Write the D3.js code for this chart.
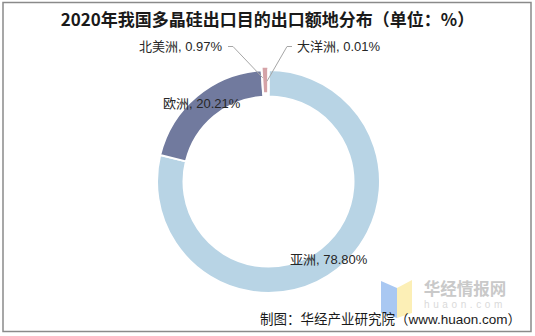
<!DOCTYPE html>
<html>
<head>
<meta charset="utf-8">
<script src="https://cdn.jsdelivr.net/npm/d3@7"></script>
<style>
  html, body { margin: 0; padding: 0; background: #fff; }
  svg { display: block; }
</style>
</head>
<body>
<svg id="chart" width="535" height="336"></svg>
<script>
// Export destinations and their shares (%)
const regions = ["亚洲", "欧洲", "北美洲", "大洋洲"];
const shares = [78.80, 20.21, 0.97, 0.01];
const shareLabels = ["78.80%", "20.21%", "0.97%", "0.01%"];
const colors = ["#b8d4e5", "#717a9e", "#d5a3a7", "#c9a8ab"];

const svg = d3.select("#chart");
const cx = 268.5, cy = 181.5;
const outerR = 111.5, innerR = 85;

// Outer frame
svg.append("rect")
  .attr("x", 3).attr("y", 2.5)
  .attr("width", 528).attr("height", 329)
  .attr("fill", "#fff")
  .attr("stroke", "#8a8a8a").attr("stroke-width", 1.5);

// Title
svg.append("text")
  .attr("x", 267.5).attr("y", 26)
  .attr("text-anchor", "middle")
  .attr("font-family", "'Noto Sans CJK SC', sans-serif")
  .attr("font-weight", "bold")
  .attr("font-size", 17)
  .attr("fill", "#1a1a1a")
  .text("2020年我国多晶硅出口目的出口额地分布（单位：%）");

// Watermark logo
const wm = svg.append("g");
wm.append("polygon")
  .attr("points", "381,281 397,288 397,318 381,313")
  .attr("fill", "#a9c8f2");
wm.append("polygon")
  .attr("points", "397,288 412,280 412,313 397,318")
  .attr("fill", "#fcefb6");
wm.append("text")
  .attr("x", 465).attr("y", 295)
  .attr("text-anchor", "middle")
  .attr("font-family", "'Noto Sans CJK SC', sans-serif")
  .attr("font-weight", "bold")
  .attr("font-size", 16.5)
  .attr("fill", "#c9c9c9")
  .text("华经情报网");
wm.append("text")
  .attr("x", 465).attr("y", 307.5)
  .attr("text-anchor", "middle")
  .attr("font-family", "'Liberation Sans', Arial, sans-serif")
  .attr("font-size", 10)
  .attr("letter-spacing", 3.6)
  .attr("fill", "#dadada")
  .text("huaon.com");

// Donut
const pie = d3.pie().sort(null).value(d => d.v);
const data = regions.map((r, i) => ({ name: r, v: shares[i], label: shareLabels[i], color: colors[i] }));
const arcs = pie(data);
const arc = d3.arc().innerRadius(innerR).outerRadius(outerR);

// North America slice is pulled out slightly from the ring
const explode = [0, 0, 3.5, 0];

const g = svg.append("g").attr("transform", `translate(${cx},${cy})`);
g.selectAll("path.slice")
  .data(arcs)
  .join("path")
  .attr("class", "slice")
  .attr("d", arc)
  .attr("fill", d => d.data.color)
  .attr("stroke", "#fff")
  .attr("stroke-width", 2)
  .attr("stroke-linejoin", "miter")
  .attr("transform", (d, i) => {
    const a = (d.startAngle + d.endAngle) / 2;
    return `translate(${Math.sin(a) * explode[i]},${-Math.cos(a) * explode[i]})`;
  });

// Leader lines for the two thin slices
const midR = (innerR + outerR) / 2 + 2;
const leaders = [
  { i: 2, label: [228, 46.5], elbow: [233, 46.5] },
  { i: 3, label: [292, 46.5], elbow: [287, 46.5] }
];
leaders.forEach(l => {
  const d = arcs[l.i];
  const a = (d.startAngle + d.endAngle) / 2;
  const r = midR + explode[l.i];
  const px = cx + Math.sin(a) * r - (l.i === 2 ? 2.5 : 1.5);
  const py = cy - Math.cos(a) * r;
  svg.append("polyline")
    .attr("points", `${l.label[0]},${l.label[1]} ${l.elbow[0]},${l.elbow[1]} ${px},${py}`)
    .attr("fill", "none")
    .attr("stroke", "#a6a6a6")
    .attr("stroke-width", 1);
});

// Data labels
const labelFont = "'Liberation Sans', 'Noto Sans CJK SC', Arial, sans-serif";
const labelPos = [
  { x: 290, y: 264, anchor: "start" },
  { x: 163, y: 108, anchor: "start" },
  { x: 222, y: 51, anchor: "end" },
  { x: 297, y: 51, anchor: "start" }
];
svg.selectAll("text.dl")
  .data(data)
  .join("text")
  .attr("class", "dl")
  .attr("x", (d, i) => labelPos[i].x)
  .attr("y", (d, i) => labelPos[i].y)
  .attr("text-anchor", (d, i) => labelPos[i].anchor)
  .attr("font-family", labelFont)
  .attr("font-size", 13)
  .attr("fill", "#262626")
  .text(d => `${d.name}, ${d.label}`);

// Source note
svg.append("text")
  .attr("x", 521).attr("y", 324)
  .attr("text-anchor", "end")
  .attr("font-family", labelFont)
  .attr("font-size", 13.5)
  .attr("fill", "#1a1a1a")
  .text("制图：华经产业研究院（www.huaon.com）");
</script>
</body>
</html>
